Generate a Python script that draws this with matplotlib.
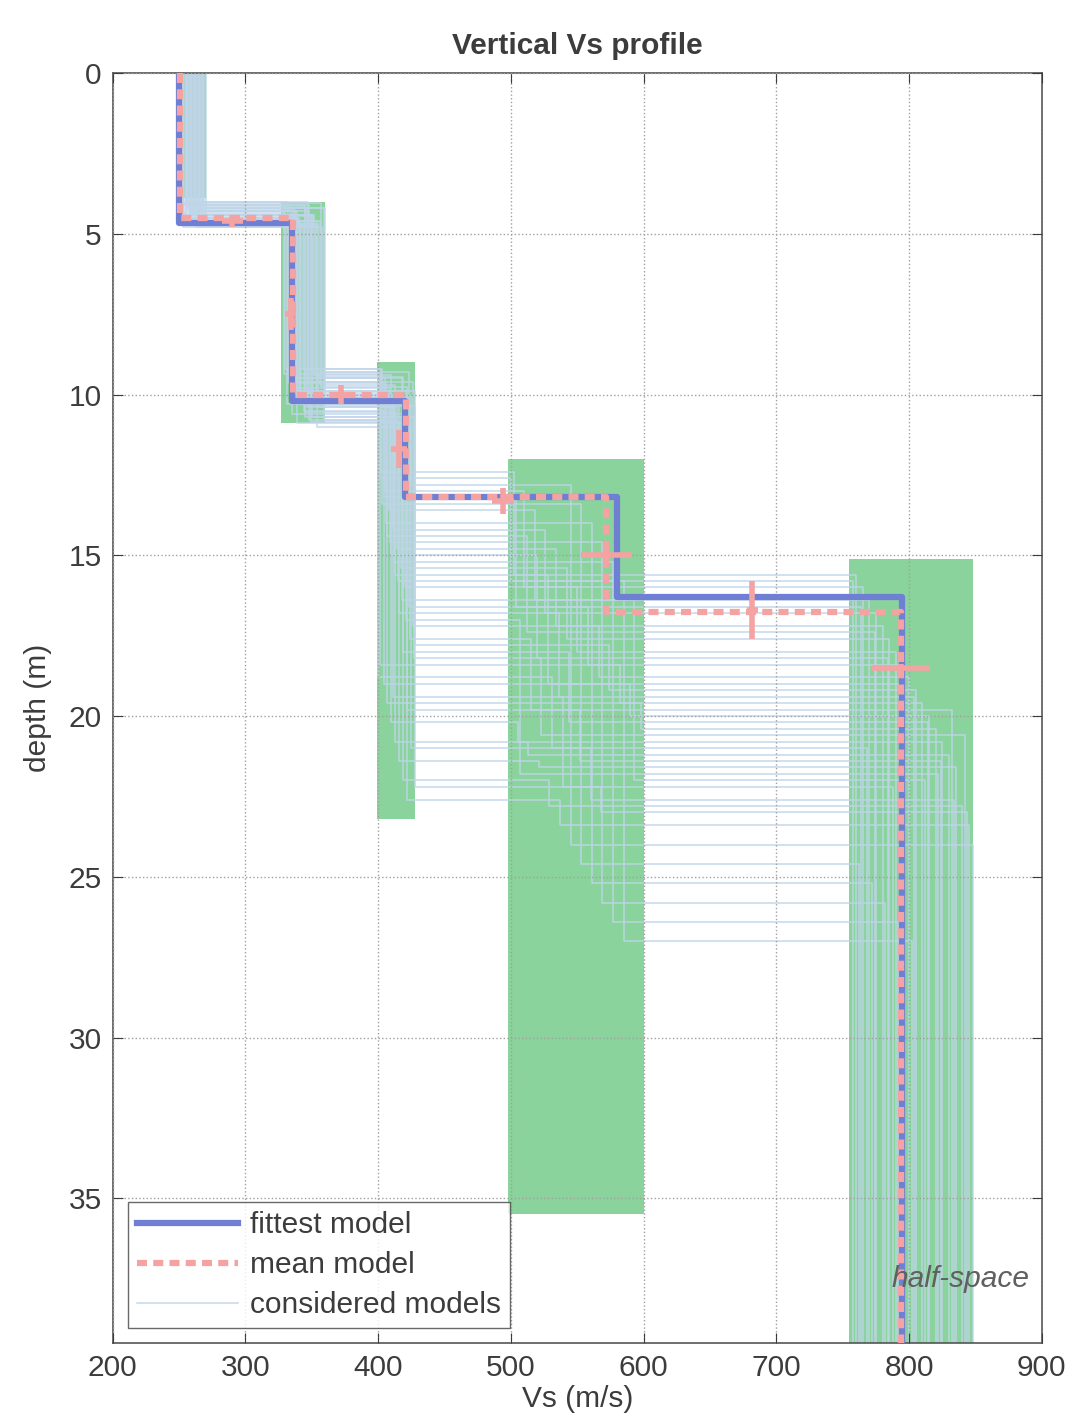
import matplotlib
matplotlib.use('Agg')
import matplotlib.pyplot as plt
from matplotlib.patches import Rectangle
import numpy as np

plt.rcParams['font.family'] = ['Liberation Sans', 'DejaVu Sans']

# search ranges of each layer (green boxes)
box_vs_min = [248, 327, 399, 498, 755]
box_vs_max = [270, 360, 428, 600, 848]
box_z_top = [0.0, 4.0, 9.0, 12.0, 15.1]
box_z_bot = [3.9, 10.9, 23.2, 35.5, 39.5]

# considered models (Vs per layer, interface depths)
vs1 = [252, 255, 258, 261, 264, 267, 250, 253, 256, 259, 262, 265, 268, 251, 254,
       257, 260, 263, 266, 269, 252, 255, 258, 261, 264, 267, 250, 256, 262, 268,
       249, 253, 257, 260, 263, 266, 270, 251, 259, 265]
z1 = [4.1, 4.3, 4.5, 4.7, 4.2, 4.4, 4.6, 4.8, 4.0, 4.3, 4.5, 4.7, 4.1, 4.4, 4.6,
      4.2, 4.5, 4.8, 4.3, 4.6, 4.0, 4.4, 4.7, 4.2, 4.5, 4.3, 4.6, 4.1, 4.4, 4.7,
      4.35, 4.55, 4.25, 4.65, 4.15, 4.45, 4.75, 4.05, 4.5, 4.3]
vs2 = [330, 334, 338, 342, 346, 350, 354, 358, 332, 336, 340, 344, 348, 352, 356,
       360, 331, 335, 339, 343, 347, 351, 355, 359, 333, 337, 341, 345, 349, 353,
       329, 333, 337, 341, 345, 349, 353, 357, 339, 347]
z2 = [9.2, 9.5, 9.8, 10.1, 10.4, 10.7, 11.0, 9.3, 9.6, 9.9, 10.2, 10.5, 10.8, 9.4, 9.7,
      10.0, 10.3, 10.6, 10.9, 9.2, 9.6, 10.0, 10.4, 10.8, 9.5, 9.9, 10.3, 10.7, 9.3, 10.1,
      9.35, 9.65, 9.95, 10.25, 10.55, 10.85, 9.45, 9.75, 10.05, 10.35]
vs3 = [402, 405, 408, 411, 414, 417, 420, 423, 426, 428, 401, 404, 407, 410, 413,
       416, 419, 422, 425, 403, 406, 409, 412, 415, 418, 421, 424, 427, 400, 411,
       401, 404, 407, 410, 413, 416, 419, 422, 425, 428]
z3 = [12.4, 13.0, 13.6, 14.2, 14.8, 15.4, 16.0, 16.6, 17.2, 17.8, 18.4, 19.0, 19.6, 20.2, 20.8,
      21.4, 22.0, 22.6, 12.8, 13.4, 14.0, 14.6, 15.2, 15.8, 16.4, 17.0, 17.6, 18.2, 18.8, 19.4,
      12.6, 13.2, 14.4, 15.0, 15.6, 16.8, 18.0, 19.8, 21.0, 22.2]
vs4 = [502, 510, 518, 526, 534, 542, 550, 558, 566, 574, 582, 590, 598, 505, 513,
       521, 529, 537, 545, 553, 561, 569, 577, 585, 593, 507, 515, 523, 531, 539,
       500, 504, 512, 520, 528, 536, 544, 552, 560, 568]
z4 = [15.6, 16.0, 16.4, 16.8, 17.2, 17.6, 18.0, 18.4, 18.8, 19.2, 19.6, 20.0, 20.4, 20.8, 21.2,
      21.6, 22.8, 23.4, 24.0, 24.6, 25.2, 25.8, 26.4, 27.0, 22.0, 21.8, 19.8, 20.6, 21.0, 22.2,
      15.8, 16.6, 17.4, 18.2, 19.0, 19.4, 20.2, 21.4, 22.6, 23.0]
vs5 = [760, 765, 770, 775, 780, 785, 790, 795, 800, 805, 810, 815, 820, 825, 830,
       835, 840, 845, 848, 762, 772, 782, 792, 802, 812, 822, 832, 842, 768, 788,
       758, 764, 774, 784, 794, 804, 814, 824, 834, 844]

# fittest and mean models
vs_fit = [250, 335, 420, 580, 795]
z_fit = [4.65, 10.2, 13.2, 16.3]
vs_mean = [251, 336, 421, 572, 794]
z_mean = [4.5, 10.0, 13.2, 16.75]

# error crosses of the mean model
err_vs = [290, 334, 372, 416, 494, 572, 682, 794]
err_z = [4.6, 7.5, 10.0, 11.7, 13.3, 15.0, 16.7, 18.5]
err_dvs = [8, 4, 8, 6, 8, 19, 4, 22]
err_dz = [0.2, 0.5, 0.3, 0.6, 0.4, 0.4, 0.9, 0.12]

zmax = 39.5


def staircase(vs, z):
    xs, ys = [], []
    tops = [0.0] + list(z)
    bots = list(z) + [zmax]
    for v, t, b in zip(vs, tops, bots):
        xs += [v, v]
        ys += [t, b]
    return xs, ys


fig = plt.figure(figsize=(10.74, 14.27), dpi=100)
ax = fig.add_axes([0.105, 0.0589, 0.865, 0.8899])
txt = '#3c3c3c'
fs = 21.5

for a, b, t, bt in zip(box_vs_min, box_vs_max, box_z_top, box_z_bot):
    ax.add_patch(Rectangle((a, t), b - a, bt - t, facecolor='#8ad39c',
                           edgecolor='none', zorder=1))

for i in range(len(vs1)):
    xs, ys = staircase([vs1[i], vs2[i], vs3[i], vs4[i], vs5[i]],
                       [z1[i], z2[i], z3[i], z4[i]])
    ax.plot(xs, ys, color='#bfd5e8', lw=1.1, alpha=0.9, zorder=2,
            label='considered models' if i == 0 else None)

xs, ys = staircase(vs_fit, z_fit)
ax.plot(xs, ys, color='#6f80d4', lw=4.5, zorder=4, label='fittest model')
xs, ys = staircase(vs_mean, z_mean)
ax.plot(xs, ys, color='#f4a2a2', lw=4.5, ls=(0, (1.6, 1.0)), zorder=5,
        label='mean model')
ax.errorbar(err_vs, err_z, xerr=err_dvs, yerr=err_dz, fmt='none',
            ecolor='#f4a2a2', elinewidth=4, capsize=0, zorder=6)

ax.text(891, 37.5, 'half-space', style='italic', fontsize=fs, color='#606060',
        ha='right', va='center', zorder=7)

ax.set_xlim(200, 900)
ax.set_ylim(zmax, 0)
ax.set_xticks(np.arange(200, 901, 100))
ax.set_yticks(np.arange(0, 36, 5))
ax.grid(True, ls=':', color='#a0a0a0', lw=1)
ax.set_axisbelow(False)
for gl in ax.get_xgridlines() + ax.get_ygridlines():
    gl.set_zorder(3)
ax.tick_params(direction='in', length=7, labelsize=fs, colors=txt,
               top=True, right=True, pad=8)
for s in ax.spines.values():
    s.set_color('#555555')
    s.set_linewidth(1.2)

ax.set_title('Vertical Vs profile', fontsize=fs, fontweight='bold', color=txt, pad=14)
ax.set_xlabel('Vs (m/s)', fontsize=fs, color=txt, labelpad=2)
ax.set_ylabel('depth (m)', fontsize=fs, color=txt, labelpad=12)

handles, labels = ax.get_legend_handles_labels()
order = [labels.index('fittest model'), labels.index('mean model'),
         labels.index('considered models')]
leg = ax.legend([handles[k] for k in order], [labels[k] for k in order],
                loc='lower left', fontsize=fs, frameon=True, fancybox=False,
                handlelength=3.4, borderpad=0.3, labelspacing=0.4,
                handletextpad=0.4, borderaxespad=0.5)
leg.get_frame().set_edgecolor('#444444')
leg.get_frame().set_linewidth(1.0)
leg.set_zorder(10)
for t in leg.get_texts():
    t.set_color(txt)

fig.savefig('out.png', dpi=100)
